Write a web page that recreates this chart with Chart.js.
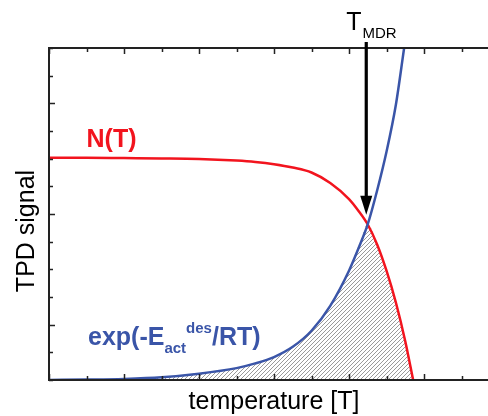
<!DOCTYPE html>
<html>
<head>
<meta charset="utf-8">
<script src="https://cdn.jsdelivr.net/npm/chart.js@4.4.1/dist/chart.umd.min.js"></script>
<style>
  html, body { margin: 0; padding: 0; background: #fff; overflow: hidden; }
  #wrap { width: 512px; height: 416px; }
</style>
</head>
<body>
<div id="wrap"><canvas id="tpd" width="512" height="416"></canvas></div>
<script>
// temperature axis (arbitrary units, one unit per minor tick)
const temps = [0, 1, 2, 3, 4, 5, 5.5, 6, 6.5, 7, 7.5, 8, 8.25, 8.5, 8.75, 9, 9.25, 9.47];
// exp(-E/RT) rate term (blue)
const desorption = [0, 0.015, 0.04, 0.1, 0.23, 0.43, 0.6, 0.83, 1.2, 1.78, 2.68, 3.95, 4.75, 5.63, 6.85, 8.25, 9.95, 12];

// coverage N(T) (red)
const nTemps = [0, 1, 2, 3, 4, 5, 5.5, 6, 6.5, 7, 7.5, 8, 8.25, 8.5, 8.75, 9, 9.25, 9.5, 9.71];
const coverage = [8.03, 8.03, 8.02, 8.01, 7.99, 7.93, 7.88, 7.8, 7.68, 7.5, 7.12, 6.54, 6.12, 5.62, 4.9, 3.95, 2.8, 1.4, 0];

// T_MDR marker
const tMdr = 8.46;
const arrowTip = 5.97;
const crossT = 8.5;

const xTicks = [0, 1, 2, 3, 4, 5, 6, 7, 8, 9, 10, 11, 12];
const yTicks = [0, 1, 2, 3, 4, 5, 6, 7, 8, 9, 10, 11, 12];

const RED = "#f2141e";
const BLUE = "#3a55a8";
const AXIS = "#222";
const FONT = "'Liberation Sans', Arial, sans-serif";

// hatched overlap = area under both curves
const hatchPts = temps.map((t, i) => ({ x: t, y: desorption[i] })).filter(p => p.x <= crossT)
  .concat(nTemps.map((t, i) => ({ x: t, y: coverage[i] })).filter(p => p.x > crossT));

function makeHatch() {
  const c = document.createElement("canvas");
  c.width = 4; c.height = 4;
  const g = c.getContext("2d");
  g.strokeStyle = "#808080";
  g.lineWidth = 0.8;
  g.beginPath();
  g.moveTo(0, 4); g.lineTo(4, 0);
  g.moveTo(-1, 1); g.lineTo(1, -1);
  g.moveTo(3, 5); g.lineTo(5, 3);
  g.stroke();
  return g.createPattern(c, "repeat");
}

// frame, inward ticks, axis titles and annotations
const framePlugin = {
  id: "frame",
  afterDatasetsDraw(chart) {
    const { ctx, chartArea: a, scales: { x, y } } = chart;
    ctx.save();
    ctx.strokeStyle = AXIS;
    ctx.lineWidth = 2;
    ctx.strokeRect(a.left, a.top, a.right - a.left, a.bottom - a.top);

    ctx.lineWidth = 1.5;
    ctx.beginPath();
    xTicks.forEach(v => {
      const px = Math.round(x.getPixelForValue(v)) + 0.5;
      const len = v % 2 === 0 ? 6 : 4;
      ctx.moveTo(px, a.top); ctx.lineTo(px, a.top + len);
      ctx.moveTo(px, a.bottom); ctx.lineTo(px, a.bottom - len);
    });
    yTicks.forEach(v => {
      const py = Math.round(y.getPixelForValue(v)) + 0.5;
      const len = v % 4 === 2 ? 6 : 4;
      ctx.moveTo(a.left, py); ctx.lineTo(a.left + len, py);
      ctx.moveTo(a.right, py); ctx.lineTo(a.right - len, py);
    });
    ctx.stroke();

    // axis titles
    ctx.fillStyle = "#000";
    ctx.font = "25px " + FONT;
    ctx.textAlign = "center";
    ctx.textBaseline = "alphabetic";
    ctx.fillText("temperature [T]", (a.left + a.right) / 2, 409);
    ctx.save();
    ctx.translate(34, 231);
    ctx.rotate(-Math.PI / 2);
    ctx.fillText("TPD signal", 0, 0);
    ctx.restore();
    ctx.textAlign = "left";

    // arrow to T_MDR
    const ax = x.getPixelForValue(tMdr);
    const tip = y.getPixelForValue(arrowTip);
    ctx.strokeStyle = "#000";
    ctx.lineWidth = 3.2;
    ctx.beginPath();
    ctx.moveTo(ax, a.top - 6);
    ctx.lineTo(ax, tip - 16);
    ctx.stroke();
    ctx.beginPath();
    ctx.moveTo(ax - 6, tip - 19);
    ctx.lineTo(ax + 6, tip - 19);
    ctx.lineTo(ax, tip);
    ctx.closePath();
    ctx.fill();

    // T_MDR label
    ctx.font = "25px " + FONT;
    const tw = ctx.measureText("T").width;
    ctx.fillText("T", ax - 20, a.top - 18);
    ctx.font = "15px " + FONT;
    ctx.fillText("MDR", ax - 20 + tw + 1, a.top - 10);

    // N(T) label
    ctx.fillStyle = RED;
    ctx.font = "bold 25px " + FONT;
    ctx.fillText("N(T)", x.getPixelForValue(1.0), y.getPixelForValue(8.43));

    // exp(-E_act^des/RT) label
    ctx.fillStyle = BLUE;
    let lx = x.getPixelForValue(1.04);
    const ly = y.getPixelForValue(1.27);
    ctx.font = "bold 25px " + FONT;
    ctx.fillText("exp(-E", lx, ly);
    lx += ctx.measureText("exp(-E").width;
    ctx.font = "bold 15px " + FONT;
    ctx.fillText("act", lx, ly + 8);
    lx += ctx.measureText("act").width;
    ctx.fillText("des", lx, ly - 12);
    lx += ctx.measureText("des").width;
    ctx.font = "bold 25px " + FONT;
    ctx.fillText("/RT)", lx, ly);
    ctx.restore();
  }
};

new Chart(document.getElementById("tpd").getContext("2d"), {
  type: "line",
  data: {
    datasets: [
      {
        label: "overlap",
        data: hatchPts,
        borderWidth: 0,
        pointRadius: 0,
        fill: "origin",
        backgroundColor: makeHatch(),
        cubicInterpolationMode: "monotone",
        order: 3
      },
      {
        label: "N(T)",
        data: nTemps.map((t, i) => ({ x: t, y: coverage[i] })),
        borderColor: RED,
        borderWidth: 2.5,
        pointRadius: 0,
        fill: false,
        cubicInterpolationMode: "monotone",
        order: 2
      },
      {
        label: "exp(-E/RT)",
        data: temps.map((t, i) => ({ x: t, y: desorption[i] })),
        borderColor: BLUE,
        borderWidth: 2.5,
        pointRadius: 0,
        fill: false,
        cubicInterpolationMode: "monotone",
        order: 1
      }
    ]
  },
  options: {
    responsive: false,
    animation: false,
    devicePixelRatio: 1,
    layout: { padding: { top: 48, right: 13, left: 0, bottom: 0 } },
    plugins: { legend: { display: false }, tooltip: { enabled: false } },
    scales: {
      x: {
        type: "linear",
        min: 0,
        max: 12,
        ticks: { display: false, stepSize: 1 },
        grid: { display: false },
        border: { display: false },
        afterFit: s => { s.height = 36; }
      },
      y: {
        min: 0,
        max: 12,
        ticks: { display: false, stepSize: 1 },
        grid: { display: false },
        border: { display: false },
        afterFit: s => { s.width = 49; }
      }
    }
  },
  plugins: [framePlugin]
});
</script>
</body>
</html>
